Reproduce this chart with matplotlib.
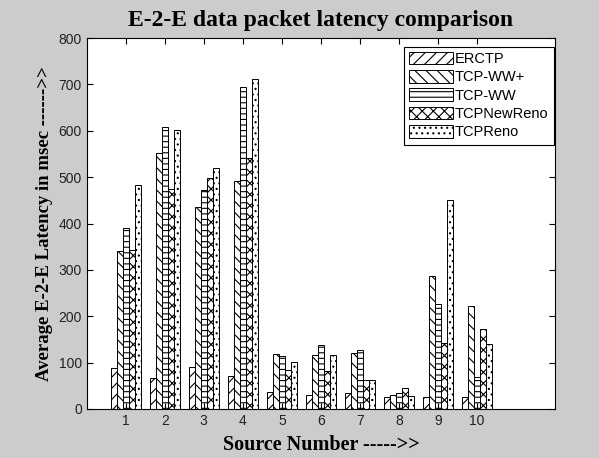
import matplotlib.pyplot as plt
import numpy as np

sources = np.arange(1, 11)
erctp = [88, 67, 91, 72, 37, 30, 35, 25, 25, 25]
tcp_ww_plus = [340, 551, 436, 492, 119, 116, 121, 30, 287, 223]
tcp_ww = [391, 609, 473, 695, 114, 137, 127, 35, 226, 69]
tcp_newreno = [343, 475, 499, 541, 84, 81, 63, 46, 142, 172]
tcp_reno = [483, 602, 520, 711, 102, 116, 63, 27, 451, 140]

series = [('ERCTP', erctp, '///'),
          ('TCP-WW+', tcp_ww_plus, '\\\\\\'),
          ('TCP-WW', tcp_ww, '---'),
          ('TCPNewReno', tcp_newreno, 'xxx'),
          ('TCPReno', tcp_reno, '...')]

plt.rcParams['hatch.linewidth'] = 0.8

fig = plt.figure(figsize=(5.99, 4.58), dpi=100, facecolor='#cccccc')
ax = fig.add_axes([0.1447, 0.107, 0.782, 0.81])
ax.set_facecolor('white')

w = 0.154
for i, (name, vals, hatch) in enumerate(series):
    ax.bar(sources + (i - 2) * w, vals, width=w, facecolor='white',
           edgecolor='black', linewidth=0.7, hatch=hatch, label=name)

ax.set_xlim(0, 12)
ax.set_ylim(0, 800)
ax.set_xticks(sources)
ax.set_yticks(np.arange(0, 801, 100))
ax.tick_params(direction='in', top=True, right=True, length=4,
               labelsize=10, labelcolor='#222222')
for lab in ax.get_xticklabels() + ax.get_yticklabels():
    lab.set_family('Liberation Sans')

ax.set_title('E-2-E data packet latency comparison', fontsize=17,
             fontweight='bold', family='Liberation Serif', pad=9)
ax.set_xlabel('Source Number ----->>', fontsize=14.5, fontweight='bold',
              family='Liberation Serif', labelpad=5)
ax.set_ylabel('Average E-2-E Latency in msec ------>>', fontsize=13.5,
              fontweight='bold', family='Liberation Serif', labelpad=4)

leg = ax.legend(loc='upper right', bbox_to_anchor=(0.997, 0.977),
                fancybox=False, edgecolor='black', framealpha=1,
                prop={'family': 'Liberation Sans', 'size': 10.5},
                handlelength=3.0, handleheight=0.95, handletextpad=0.15,
                labelspacing=0.28, borderpad=0.35, borderaxespad=0)
leg.get_frame().set_linewidth(0.8)

fig.savefig('out.png', dpi=100, facecolor=fig.get_facecolor())
